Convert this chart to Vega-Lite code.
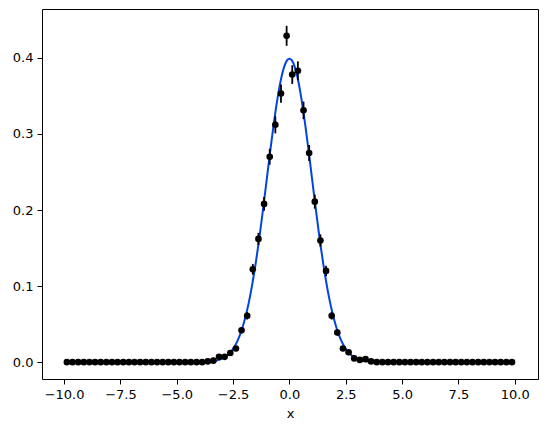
{
  "$schema": "https://vega.github.io/schema/vega-lite/v6.json",
  "width": 496,
  "height": 370,
  "autosize": {"type": "none"},
  "padding": {"left": 42, "top": 9, "right": 9, "bottom": 53},
  "background": "white",
  "config": {
    "view": {"stroke": "black", "strokeWidth": 1},
    "axis": {
      "grid": false,
      "domain": false,
      "tickColor": "black",
      "tickSize": 5,
      "tickWidth": 1,
      "labelFont": "DejaVu Sans",
      "labelFontSize": 13,
      "labelColor": "black",
      "labelPadding": 4,
      "titleFont": "DejaVu Sans",
      "titleFontSize": 13,
      "titleFontWeight": "normal",
      "titleColor": "black"
    }
  },
  "datasets": {
    "pts": [
      {"x": -9.875, "y": 0, "err": 0}, {"x": -9.625, "y": 0, "err": 0}, {"x": -9.375, "y": 0, "err": 0}, {"x": -9.125, "y": 0, "err": 0},
      {"x": -8.875, "y": 0, "err": 0}, {"x": -8.625, "y": 0, "err": 0}, {"x": -8.375, "y": 0, "err": 0}, {"x": -8.125, "y": 0, "err": 0},
      {"x": -7.875, "y": 0, "err": 0}, {"x": -7.625, "y": 0, "err": 0}, {"x": -7.375, "y": 0, "err": 0}, {"x": -7.125, "y": 0, "err": 0},
      {"x": -6.875, "y": 0, "err": 0}, {"x": -6.625, "y": 0, "err": 0}, {"x": -6.375, "y": 0, "err": 0}, {"x": -6.125, "y": 0, "err": 0},
      {"x": -5.875, "y": 0, "err": 0}, {"x": -5.625, "y": 0, "err": 0}, {"x": -5.375, "y": 0, "err": 0}, {"x": -5.125, "y": 0, "err": 0},
      {"x": -4.875, "y": 0, "err": 0}, {"x": -4.625, "y": 0, "err": 0}, {"x": -4.375, "y": 0, "err": 0}, {"x": -4.125, "y": 0, "err": 0},
      {"x": -3.875, "y": 0, "err": 0},
      {"x": -3.625, "y": 0.001, "err": 0.0006},
      {"x": -3.375, "y": 0.002, "err": 0.0009},
      {"x": -3.125, "y": 0.007, "err": 0.0017},
      {"x": -2.875, "y": 0.007, "err": 0.0017},
      {"x": -2.625, "y": 0.012, "err": 0.0022},
      {"x": -2.375, "y": 0.018, "err": 0.0027},
      {"x": -2.125, "y": 0.042, "err": 0.0041},
      {"x": -1.875, "y": 0.061, "err": 0.0049},
      {"x": -1.625, "y": 0.122, "err": 0.007},
      {"x": -1.375, "y": 0.162, "err": 0.008},
      {"x": -1.125, "y": 0.208, "err": 0.0091},
      {"x": -0.875, "y": 0.270, "err": 0.0104},
      {"x": -0.625, "y": 0.312, "err": 0.0112},
      {"x": -0.375, "y": 0.353, "err": 0.0119},
      {"x": -0.125, "y": 0.429, "err": 0.0131},
      {"x": 0.125, "y": 0.378, "err": 0.0123},
      {"x": 0.375, "y": 0.383, "err": 0.0124},
      {"x": 0.625, "y": 0.331, "err": 0.0115},
      {"x": 0.875, "y": 0.275, "err": 0.0105},
      {"x": 1.125, "y": 0.211, "err": 0.0092},
      {"x": 1.375, "y": 0.160, "err": 0.008},
      {"x": 1.625, "y": 0.120, "err": 0.0069},
      {"x": 1.875, "y": 0.061, "err": 0.0049},
      {"x": 2.125, "y": 0.039, "err": 0.004},
      {"x": 2.375, "y": 0.018, "err": 0.0027},
      {"x": 2.625, "y": 0.013, "err": 0.0023},
      {"x": 2.875, "y": 0.005, "err": 0.0014},
      {"x": 3.125, "y": 0.003, "err": 0.0011},
      {"x": 3.375, "y": 0.004, "err": 0.0013},
      {"x": 3.625, "y": 0.001, "err": 0.0006},
      {"x": 3.875, "y": 0, "err": 0},
      {"x": 4.125, "y": 0, "err": 0}, {"x": 4.375, "y": 0, "err": 0}, {"x": 4.625, "y": 0, "err": 0}, {"x": 4.875, "y": 0, "err": 0},
      {"x": 5.125, "y": 0, "err": 0}, {"x": 5.375, "y": 0, "err": 0}, {"x": 5.625, "y": 0, "err": 0}, {"x": 5.875, "y": 0, "err": 0},
      {"x": 6.125, "y": 0, "err": 0}, {"x": 6.375, "y": 0, "err": 0}, {"x": 6.625, "y": 0, "err": 0}, {"x": 6.875, "y": 0, "err": 0},
      {"x": 7.125, "y": 0, "err": 0}, {"x": 7.375, "y": 0, "err": 0}, {"x": 7.625, "y": 0, "err": 0}, {"x": 7.875, "y": 0, "err": 0},
      {"x": 8.125, "y": 0, "err": 0}, {"x": 8.375, "y": 0, "err": 0}, {"x": 8.625, "y": 0, "err": 0}, {"x": 8.875, "y": 0, "err": 0},
      {"x": 9.125, "y": 0, "err": 0}, {"x": 9.375, "y": 0, "err": 0}, {"x": 9.625, "y": 0, "err": 0}, {"x": 9.875, "y": 0, "err": 0}
    ],
    "curve": [
      {"x": -10, "y": 0}, {"x": -5, "y": 0}, {"x": -4.5, "y": 0.00002}, {"x": -4.0, "y": 0.00013},
      {"x": -3.8, "y": 0.00029}, {"x": -3.6, "y": 0.00061}, {"x": -3.4, "y": 0.00123}, {"x": -3.2, "y": 0.00238},
      {"x": -3.0, "y": 0.00443}, {"x": -2.9, "y": 0.00595}, {"x": -2.8, "y": 0.00792}, {"x": -2.7, "y": 0.01042},
      {"x": -2.6, "y": 0.01358}, {"x": -2.5, "y": 0.01753}, {"x": -2.4, "y": 0.02239}, {"x": -2.3, "y": 0.02833},
      {"x": -2.2, "y": 0.03547}, {"x": -2.1, "y": 0.04398}, {"x": -2.0, "y": 0.05399}, {"x": -1.9, "y": 0.06562},
      {"x": -1.8, "y": 0.07895}, {"x": -1.7, "y": 0.09405}, {"x": -1.6, "y": 0.11092}, {"x": -1.5, "y": 0.12952},
      {"x": -1.4, "y": 0.14973}, {"x": -1.3, "y": 0.17137}, {"x": -1.2, "y": 0.19419}, {"x": -1.1, "y": 0.21785},
      {"x": -1.0, "y": 0.24197}, {"x": -0.9, "y": 0.26609}, {"x": -0.8, "y": 0.28969}, {"x": -0.7, "y": 0.31225},
      {"x": -0.6, "y": 0.33322}, {"x": -0.5, "y": 0.35207}, {"x": -0.4, "y": 0.36827}, {"x": -0.3, "y": 0.38139},
      {"x": -0.2, "y": 0.39104}, {"x": -0.1, "y": 0.39695}, {"x": 0.0, "y": 0.39894}, {"x": 0.1, "y": 0.39695},
      {"x": 0.2, "y": 0.39104}, {"x": 0.3, "y": 0.38139}, {"x": 0.4, "y": 0.36827}, {"x": 0.5, "y": 0.35207},
      {"x": 0.6, "y": 0.33322}, {"x": 0.7, "y": 0.31225}, {"x": 0.8, "y": 0.28969}, {"x": 0.9, "y": 0.26609},
      {"x": 1.0, "y": 0.24197}, {"x": 1.1, "y": 0.21785}, {"x": 1.2, "y": 0.19419}, {"x": 1.3, "y": 0.17137},
      {"x": 1.4, "y": 0.14973}, {"x": 1.5, "y": 0.12952}, {"x": 1.6, "y": 0.11092}, {"x": 1.7, "y": 0.09405},
      {"x": 1.8, "y": 0.07895}, {"x": 1.9, "y": 0.06562}, {"x": 2.0, "y": 0.05399}, {"x": 2.1, "y": 0.04398},
      {"x": 2.2, "y": 0.03547}, {"x": 2.3, "y": 0.02833}, {"x": 2.4, "y": 0.02239}, {"x": 2.5, "y": 0.01753},
      {"x": 2.6, "y": 0.01358}, {"x": 2.7, "y": 0.01042}, {"x": 2.8, "y": 0.00792}, {"x": 2.9, "y": 0.00595},
      {"x": 3.0, "y": 0.00443}, {"x": 3.2, "y": 0.00238}, {"x": 3.4, "y": 0.00123}, {"x": 3.6, "y": 0.00061},
      {"x": 3.8, "y": 0.00029}, {"x": 4.0, "y": 0.00013}, {"x": 4.5, "y": 0.00002}, {"x": 5, "y": 0}, {"x": 10, "y": 0}
    ]
  },
  "layer": [
    {
      "data": {"name": "curve"},
      "mark": {"type": "line", "color": "#0343df", "strokeWidth": 2, "interpolate": "monotone"},
      "encoding": {
        "x": {"field": "x", "type": "quantitative", "scale": {"domain": [-10.98, 11.03], "nice": false, "zero": false},
              "axis": {"values": [-10, -7.5, -5, -2.5, 0, 2.5, 5, 7.5, 10], "format": ".1f", "title": "x", "titlePadding": 6}},
        "y": {"field": "y", "type": "quantitative", "scale": {"domain": [-0.0221, 0.4642], "nice": false, "zero": false},
              "axis": {"values": [0, 0.1, 0.2, 0.3, 0.4], "format": ".1f", "title": null}}
      }
    },
    {
      "data": {"name": "pts"},
      "mark": {"type": "errorbar", "color": "black", "thickness": 1.8},
      "encoding": {
        "x": {"field": "x", "type": "quantitative"},
        "y": {"field": "y", "type": "quantitative"},
        "yError": {"field": "err"}
      }
    },
    {
      "data": {"name": "pts"},
      "mark": {"type": "circle", "color": "black", "opacity": 1, "size": 44},
      "encoding": {
        "x": {"field": "x", "type": "quantitative"},
        "y": {"field": "y", "type": "quantitative"}
      }
    }
  ]
}
